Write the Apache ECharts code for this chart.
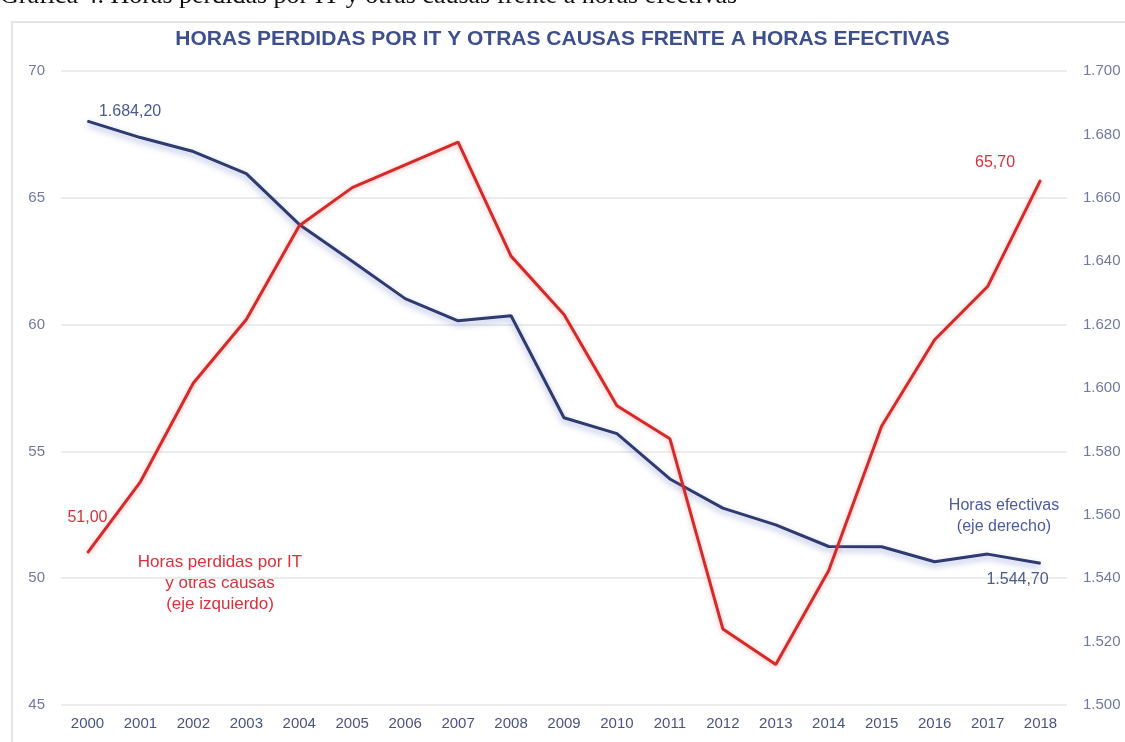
<!DOCTYPE html>
<html>
<head>
<meta charset="utf-8">
<script src="https://cdn.jsdelivr.net/npm/echarts@6/dist/echarts.min.js"></script>
<style>
  html, body { margin: 0; padding: 0; background: #fff; }
  #main { width: 1125px; height: 742px; }
</style>
</head>
<body>
<div id="main"></div>
<script>
var years = ['2000', '2001', '2002', '2003', '2004', '2005', '2006', '2007', '2008', '2009',
  '2010', '2011', '2012', '2013', '2014', '2015', '2016', '2017', '2018'];

// horas perdidas por IT y otras causas (eje izquierdo)
var horasPerdidas = [51.0, 53.8, 57.7, 60.2, 63.9, 65.4, 66.3, 67.2, 62.7, 60.4,
  56.8, 55.5, 48.0, 46.6, 50.3, 56.0, 59.4, 61.5, 65.7];

// horas efectivas (eje derecho)
var horasEfectivas = [1684.2, 1679.0, 1674.6, 1667.6, 1651.6, 1640.0, 1628.2, 1621.2, 1622.8, 1590.6,
  1585.6, 1571.3, 1562.1, 1556.8, 1550.0, 1549.9, 1545.2, 1547.6, 1544.7];

var leftTicks = [45, 70, 5];
var rightTicks = [1500, 1700, 20];

function fmtNum(v, dec) {
  var parts = v.toFixed(dec).split('.');
  parts[0] = parts[0].replace(/\B(?=(\d{3})+(?!\d))/g, '.');
  return parts.join(',');
}

var chart = echarts.init(document.getElementById('main'));

var redData = horasPerdidas.map(function (v, i) {
  if (i === 0) {
    return { value: v, label: { show: true, position: 'top', offset: [0, -22] } };
  }
  if (i === horasPerdidas.length - 1) {
    return { value: v, label: { show: true, position: 'left', offset: [-20, -17] } };
  }
  return v;
});

var blueData = horasEfectivas.map(function (v, i) {
  if (i === 0) {
    return { value: v, label: { show: true, position: 'right', offset: [6, -9] } };
  }
  if (i === horasEfectivas.length - 1) {
    return { value: v, label: { show: true, position: 'bottom', offset: [-23, 3] } };
  }
  return v;
});

var option = {
  backgroundColor: '#ffffff',
  animation: false,
  graphic: [{
    type: 'rect',
    shape: { x: 12, y: 22, width: 1130, height: 740 },
    style: { fill: 'none', stroke: '#e4e4e4', lineWidth: 2 }
  }, {
    type: 'text',
    left: 0,
    top: -17,
    style: {
      text: 'Gráfica 4. Horas perdidas por IT y otras causas frente a horas efectivas',
      fill: '#111',
      font: '26px "Liberation Serif"'
    }
  }, {
    type: 'text',
    left: 'center',
    top: 29,
    style: {
      text: 'HORAS PERDIDAS POR IT Y OTRAS CAUSAS FRENTE A HORAS EFECTIVAS',
      fill: '#3e4f8e',
      font: 'bold 21px "Liberation Sans"'
    }
  }, {
    type: 'text',
    x: 220,
    y: 552,
    style: {
      text: 'Horas perdidas por IT\ny otras causas\n(eje izquierdo)',
      fill: '#d9303a',
      align: 'center',
      lineHeight: 21,
      font: '17px "Liberation Sans"'
    }
  }, {
    type: 'text',
    x: 1004,
    y: 495,
    style: {
      text: 'Horas efectivas\n(eje derecho)',
      fill: '#4a5a9c',
      align: 'center',
      lineHeight: 21,
      font: '16px "Liberation Sans"'
    }
  }],
  grid: { left: 61, right: 58, top: 71, bottom: 37 },
  xAxis: {
    type: 'category',
    data: years,
    boundaryGap: true,
    axisLine: { show: false },
    axisTick: { show: false },
    axisLabel: { color: '#485482', fontSize: 15, margin: 11, fontFamily: 'Liberation Sans' }
  },
  yAxis: [{
    type: 'value',
    min: leftTicks[0],
    max: leftTicks[1],
    interval: leftTicks[2],
    axisLine: { show: false },
    axisTick: { show: false },
    splitLine: { lineStyle: { color: '#ececec', width: 2 } },
    axisLabel: { color: '#6f7aa0', fontSize: 15, margin: 16, fontFamily: 'Liberation Sans' }
  }, {
    type: 'value',
    min: rightTicks[0],
    max: rightTicks[1],
    interval: rightTicks[2],
    position: 'right',
    axisLine: { show: false },
    axisTick: { show: false },
    splitLine: { show: false },
    axisLabel: {
      color: '#6f7aa0', fontSize: 15, margin: 16, fontFamily: 'Liberation Sans',
      formatter: function (v) { return fmtNum(v, 0); }
    }
  }],
  series: [{
    name: 'Horas perdidas por IT y otras causas',
    type: 'line',
    yAxisIndex: 0,
    data: redData,
    symbol: 'circle',
    symbolSize: 1,
    itemStyle: { color: '#d42a2a' },
    lineStyle: {
      color: '#d42a2a', width: 3,
      shadowColor: 'rgba(230,90,90,0.45)', shadowBlur: 5, shadowOffsetY: 1
    },
    label: {
      show: false,
      color: '#d9303a',
      fontSize: 16,
      fontFamily: 'Liberation Sans',
      formatter: function (p) { return fmtNum(p.value, 2); }
    },
    z: 3
  }, {
    name: 'Horas efectivas',
    type: 'line',
    yAxisIndex: 1,
    data: blueData,
    symbol: 'circle',
    symbolSize: 1,
    itemStyle: { color: '#2f3b6e' },
    lineStyle: {
      color: '#2f3b6e', width: 3,
      shadowColor: 'rgba(80,100,190,0.5)', shadowBlur: 6, shadowOffsetY: 3
    },
    label: {
      show: false,
      color: '#4a5a8c',
      fontSize: 16,
      fontFamily: 'Liberation Sans',
      formatter: function (p) { return fmtNum(p.value, 2); }
    },
    z: 2
  }]
};

chart.setOption(option);
</script>
</body>
</html>
